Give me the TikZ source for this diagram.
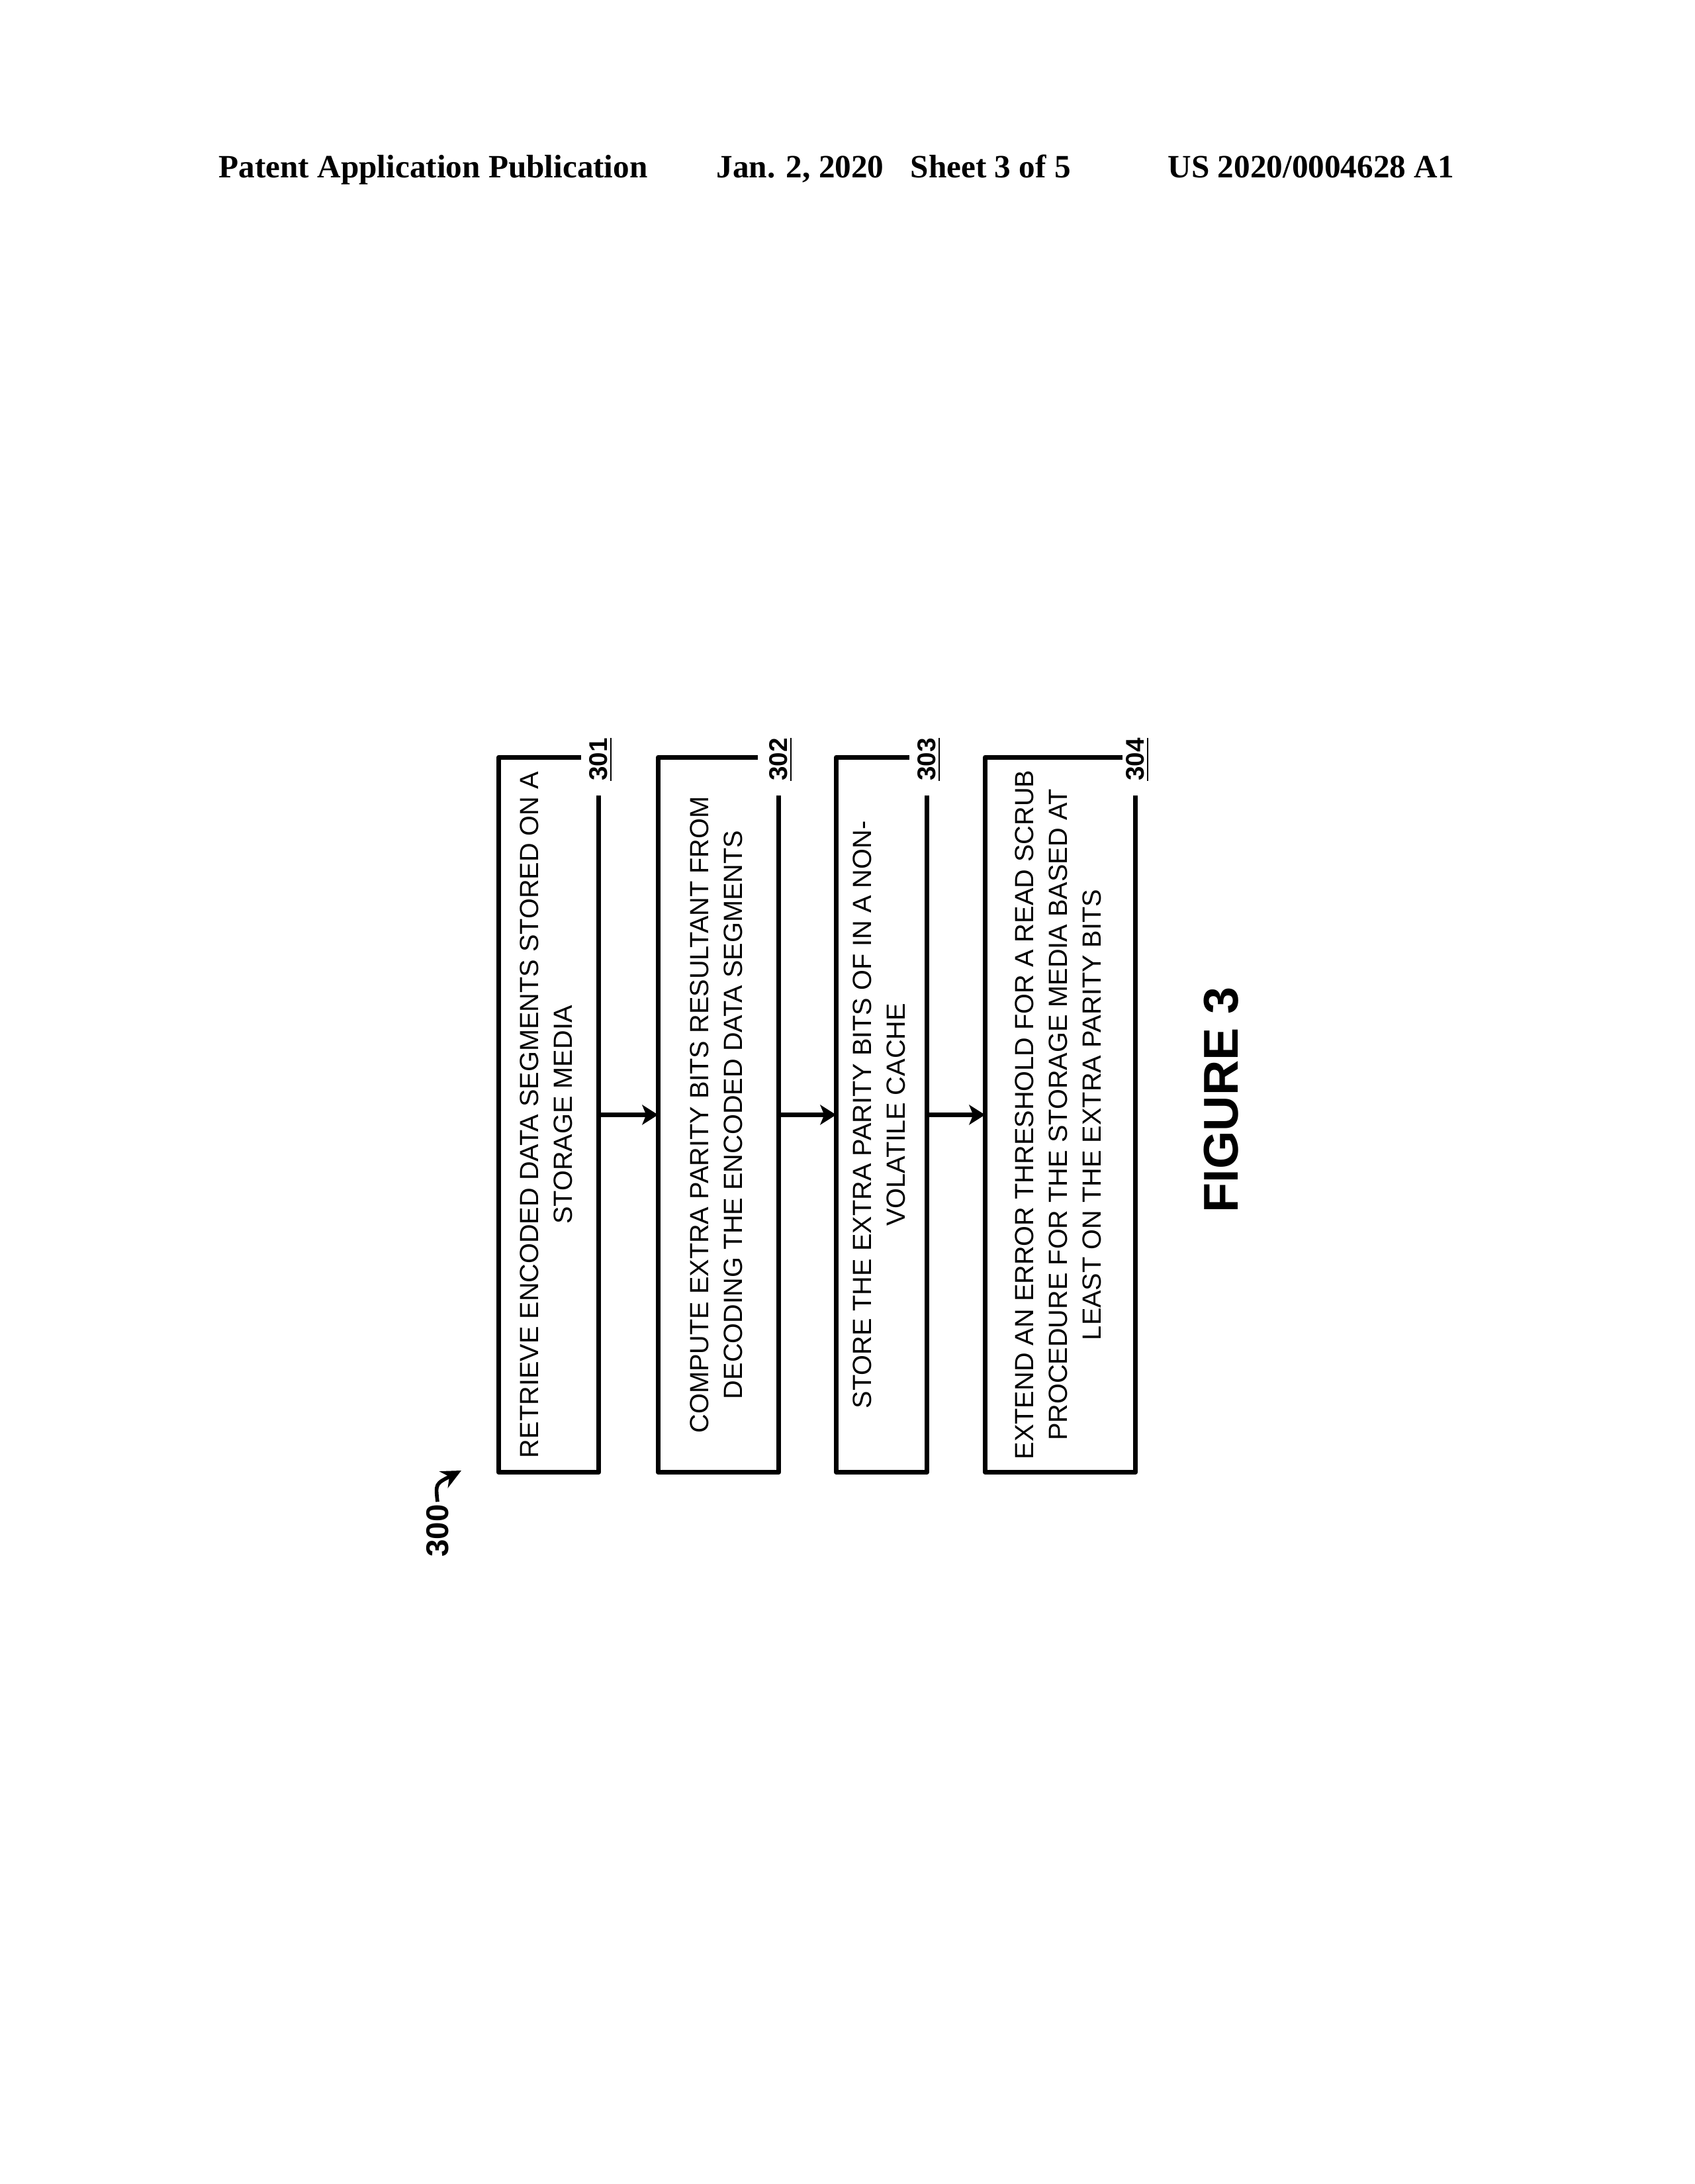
\documentclass[tikz,border=0pt]{standalone}
\usepackage{fontspec}
\setmainfont{Liberation Sans}
\newfontfamily\headfont{Liberation Serif}
\usepackage{tikz}
\usetikzlibrary{arrows.meta}

\tikzset{
  stepbox/.style={rectangle, inner sep=0pt, font=\fontsize{11.3}{14.5}\selectfont},
  boxline/.style={line width=2pt, line join=round},
  flow/.style={line width=2pt, -{Stealth[length=2.4mm, width=3mm, inset=0.6mm]}},
  reflabel/.style={rotate=90, inner sep=1pt, font=\fontsize{11}{13}\selectfont\bfseries},
  headtext/.style={anchor=base west, inner sep=0pt, font=\headfont\fontsize{14}{16}\selectfont\bfseries},
}

\begin{document}
\begin{tikzpicture}
        \useasboundingbox (0,0) rectangle (25.6,33);
        %
        \node [headtext] (hpub) at (3.30,30.31) {Patent Application Publication};
        \node [headtext] (hdate) at (10.82,30.31) {Jan. 2, 2020};
        \node [headtext] (hsheet) at (13.75,30.31) {Sheet 3 of 5};
        \node [headtext] (hnum) at (17.64,30.31) {US 2020/0004628 A1};
        %
        \node [stepbox, minimum width=1.50cm, minimum height=10.79cm] (b1) at (8.29,16.155)
          {\rotatebox{90}{\begin{tabular}{@{}c@{}}RETRIEVE ENCODED DATA SEGMENTS STORED ON A\\STORAGE MEDIA\end{tabular}}};
        \node [stepbox, minimum width=1.81cm, minimum height=10.79cm] (b2) at (10.855,16.155)
          {\rotatebox{90}{\begin{tabular}{@{}c@{}}COMPUTE EXTRA PARITY BITS RESULTANT FROM\\DECODING THE ENCODED DATA SEGMENTS\end{tabular}}};
        \node [stepbox, minimum width=1.36cm, minimum height=10.79cm] (b3) at (13.32,16.155)
          {\rotatebox{90}{\begin{tabular}{@{}c@{}}STORE THE EXTRA PARITY BITS OF IN A NON-\\VOLATILE CACHE\end{tabular}}};
        \node [stepbox, minimum width=2.26cm, minimum height=10.79cm] (b4) at (16.02,16.155)
          {\rotatebox{90}{\begin{tabular}{@{}c@{}}EXTEND AN ERROR THRESHOLD FOR A READ SCRUB\\PROCEDURE FOR THE STORAGE MEDIA BASED AT\\LEAST ON THE EXTRA PARITY BITS\end{tabular}}};
        %
        \draw [boxline] ([xshift=-2.7mm]b1.north east) -- (b1.north west) -- (b1.south west) -- (b1.south east) -- ([yshift=-5.8mm]b1.north east);
        \draw [boxline] ([xshift=-3.2mm]b2.north east) -- (b2.north west) -- (b2.south west) -- (b2.south east) -- ([yshift=-5.8mm]b2.north east);
        \draw [boxline] ([xshift=-2.7mm]b3.north east) -- (b3.north west) -- (b3.south west) -- (b3.south east) -- ([yshift=-5.8mm]b3.north east);
        \draw [boxline] ([xshift=-2.0mm]b4.north east) -- (b4.north west) -- (b4.south west) -- (b4.south east) -- ([yshift=-5.8mm]b4.north east);
        %
        \node [reflabel] (r1) at ([shift={(0.3mm,-0.3mm)}]b1.north east) {\underline{301}};
        \node [reflabel] (r2) at ([shift={(0.3mm,-0.3mm)}]b2.north east) {\underline{302}};
        \node [reflabel] (r3) at ([shift={(0.3mm,-0.3mm)}]b3.north east) {\underline{303}};
        \node [reflabel] (r4) at ([shift={(0.3mm,-0.3mm)}]b4.north east) {\underline{304}};
        %
        \draw [flow] (b1.east) -- (b2.west);
        \draw [flow] (b2.east) -- (b3.west);
        \draw [flow] (b3.east) -- (b4.west);
        %
        \node [reflabel, font=\fontsize{13.5}{15}\selectfont\bfseries] (n300) at (6.61,9.87) {300};
        \coordinate (t300) at (6.97,10.78);
        \draw [line width=1.6pt, -{Stealth[length=3mm, width=2.8mm]}] (n300.east) .. controls (6.58,10.58) .. (t300);
        %
        \node [rotate=90, font=\fontsize{21}{24}\selectfont\bfseries] (fig) at (18.45,16.38) {FIGURE 3};
\end{tikzpicture}
\end{document}
